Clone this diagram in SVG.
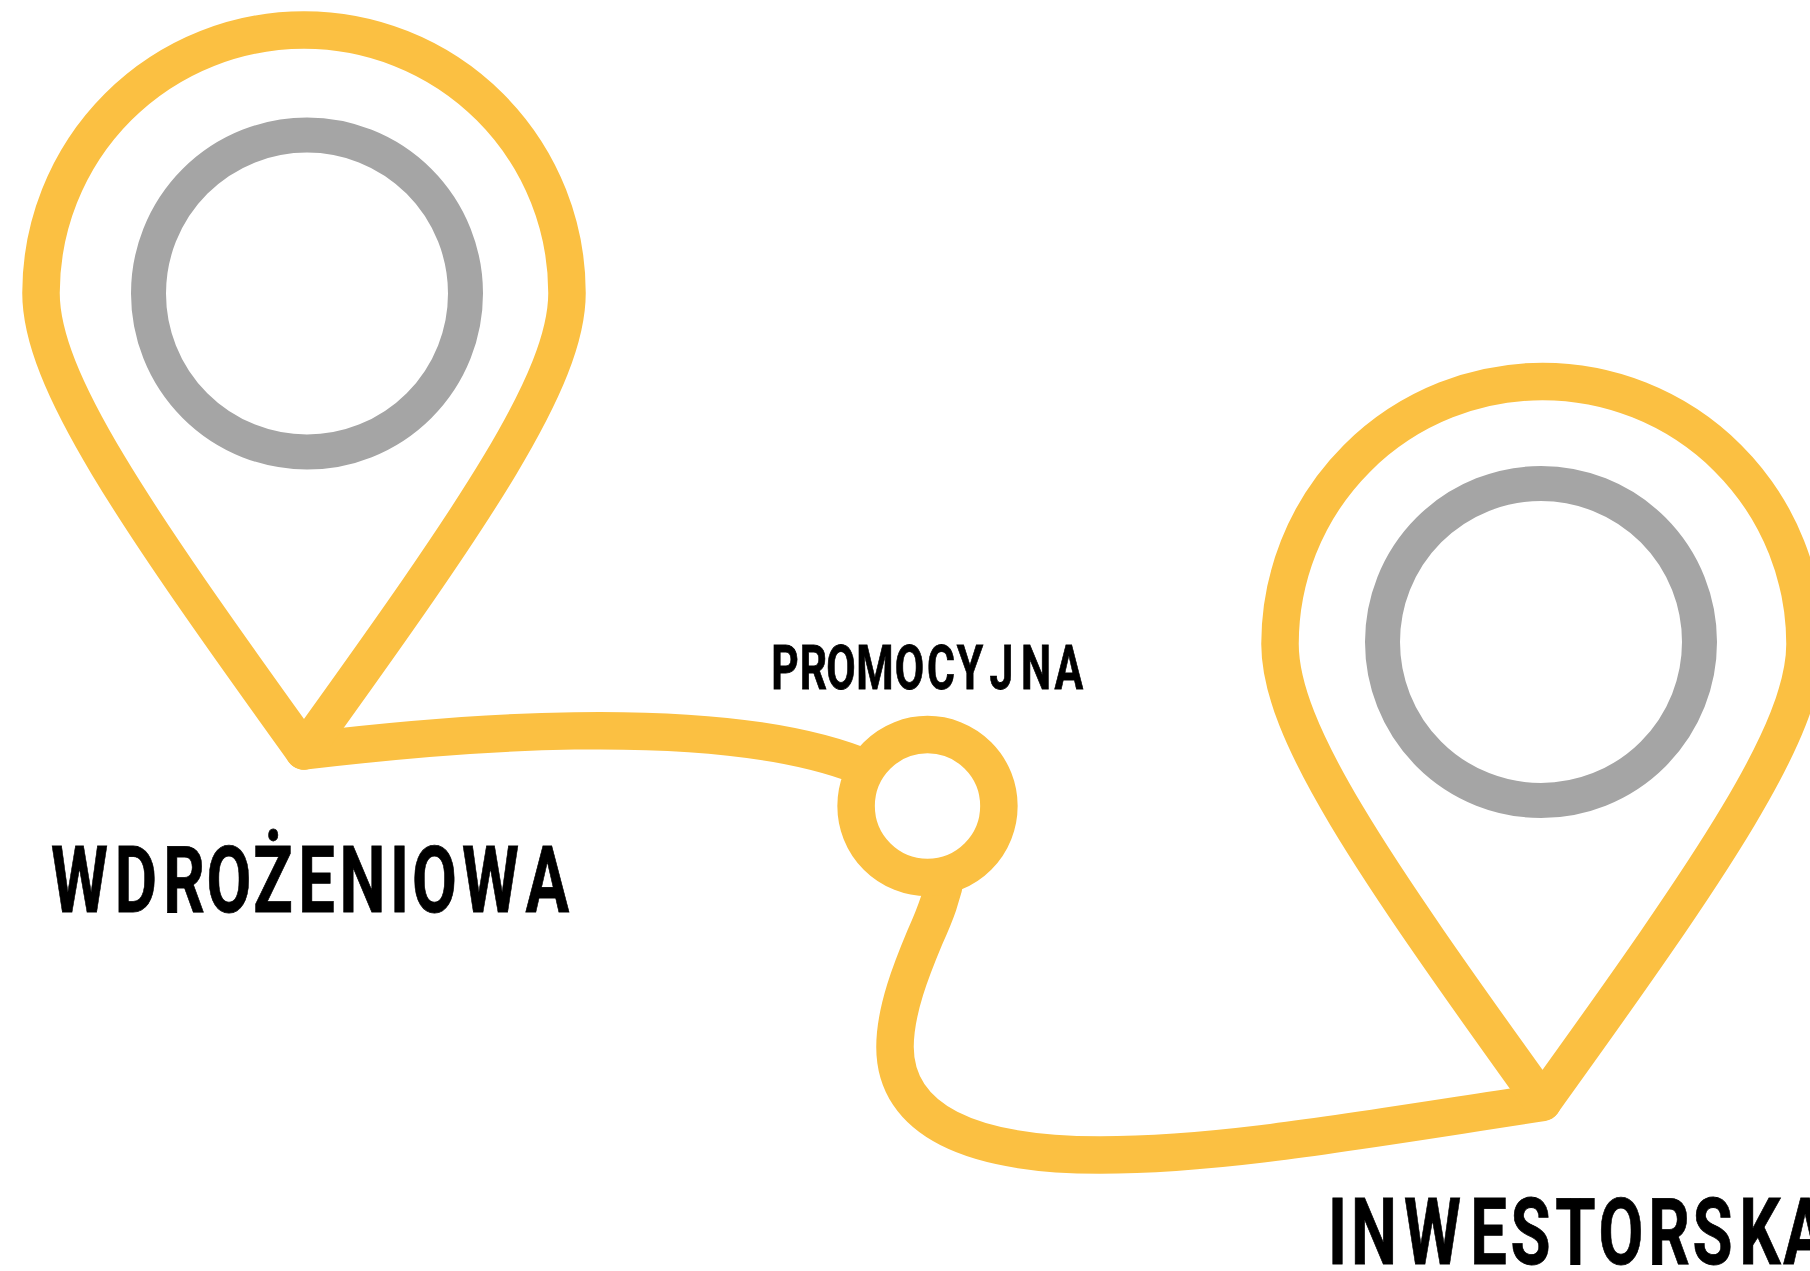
<svg xmlns="http://www.w3.org/2000/svg" width="1810" height="1271" viewBox="0 0 1810 1271">
<style>
.y{fill:none;stroke:#fbc042;stroke-width:37.5;stroke-linejoin:round;stroke-linecap:round}
.w{fill:#fff;stroke:#fbc042;stroke-width:37.5}
.g{fill:none;stroke:#a5a5a5;stroke-width:35}
text{font-family:Roboto,"Liberation Sans",Arial,sans-serif;font-weight:700;fill:#000;stroke:#000;stroke-width:.8;text-anchor:middle}
</style>
<rect width="1810" height="1271" fill="#fff"/>
<g id="connectors">
<path class="y" d="M304 751C420 737 720 705 870 770"/>
<path class="y" d="M947 870C943 895 935 915 925 937C912 968 895 1010 895 1047C895 1120 970 1155 1100 1155C1220 1155 1345 1132.500 1542.500 1102.500"/>
</g>
<g id="pin-wdrozeniowa">
<path class="y" d="M304 751C132 512 41 380 41 293A263 263 0 0 1 567 293C567 380 476 512 304 751Z"/>
<circle class="g" cx="307" cy="293.500" r="158.500"/>
<text transform="scale(.7 1)" x="113.600 194.300 262.900 327.100 390 452.100 517.900 570.700 620.700 700.700 782.100" y="912" font-size="93">WDROŻENIOWA</text>
</g>
<g id="node-promocyjna">
<circle class="w" cx="927.500" cy="806" r="71.400"/>
<text transform="scale(.7 1)" x="1121.400 1162.100 1201.400 1250 1299.300 1344.300 1385.700 1430.700 1480 1527.100" y="689" font-size="61">PROMOCYJNA</text>
</g>
<g id="pin-inwestorska">
<path class="y" d="M1542.500 1102C1370.500 863 1280 731 1280 644A262.500 262.500 0 0 1 1805 644C1805 731 1714.500 863 1542.500 1102Z"/>
<circle class="g" cx="1541" cy="642" r="158.500"/>
<text transform="scale(.7 1)" x="1910.700 1962.900 2046.400 2126.400 2186.400 2250.700 2315.700 2384.300 2446.400 2514.300 2578.600" y="1264" font-size="93">INWESTORSKA</text>
</g>
</svg>
